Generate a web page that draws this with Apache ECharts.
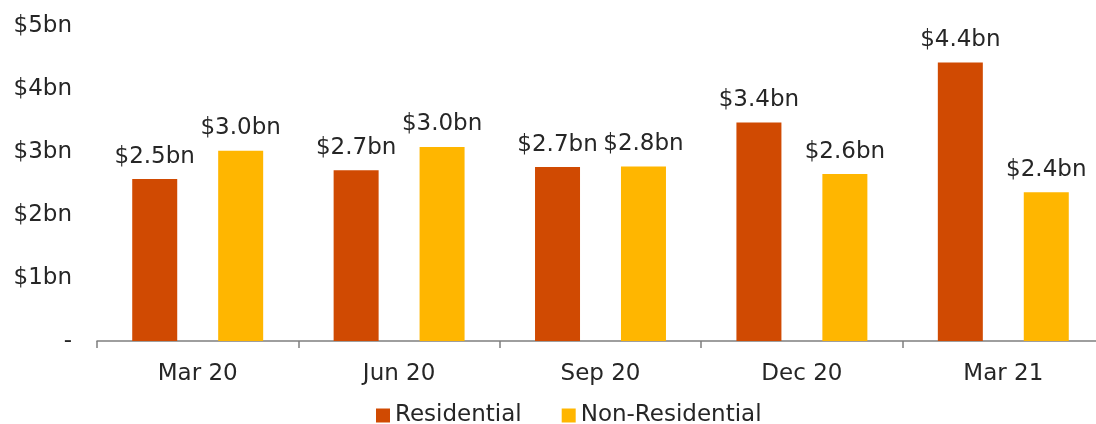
<!DOCTYPE html>
<html><head><meta charset="utf-8">
<script src="https://cdn.jsdelivr.net/npm/echarts@6/dist/echarts.min.js"></script>
<style>html,body{margin:0;padding:0;background:#fff;overflow:hidden}#c{width:1112px;height:424px}</style>
</head><body><div id="c"></div>
<script>
const categories = ["Mar 20", "Jun 20", "Sep 20", "Dec 20", "Mar 21"];
const residential = [2.57, 2.71, 2.76, 3.47, 4.42];
const nonResidential = [3.02, 3.08, 2.77, 2.65, 2.36];
const residentialLabels = ["$2.5bn", "$2.7bn", "$2.7bn", "$3.4bn", "$4.4bn"];
const nonResidentialLabels = ["$3.0bn", "$3.0bn", "$2.8bn", "$2.6bn", "$2.4bn"];
const yTickLabels = ["-", "$1bn", "$2bn", "$3bn", "$4bn", "$5bn"];

const FONT = "DejaVu Sans";
const TXT = "#262626";
const chart = echarts.init(document.getElementById('c'), null, {renderer: 'canvas'});
chart.setOption({
  animation: false,
  textStyle: {fontFamily: FONT},
  grid: {left: 97, width: 1007, top: 26, height: 315},
  legend: {
    left: 371, top: 399,
    itemWidth: 14, itemHeight: 14, itemGap: 40,
    icon: 'rect',
    textStyle: {fontFamily: FONT, fontSize: 23, color: TXT},
    data: ['Residential', 'Non-Residential']
  },
  xAxis: {
    type: 'category', data: categories,
    axisLine: {lineStyle: {color: '#7f7f7f', width: 1.5}},
    axisTick: {show: true, length: 7, lineStyle: {color: '#7f7f7f', width: 1.5}},
    axisLabel: {fontFamily: FONT, fontSize: 23, color: TXT, margin: 22}
  },
  yAxis: {
    type: 'value', min: 0, max: 5, interval: 1,
    axisLine: {show: false}, axisTick: {show: false}, splitLine: {show: false},
    axisLabel: {fontFamily: FONT, fontSize: 23, color: TXT, margin: 25,
      formatter: v => yTickLabels[Math.round(v)]}
  },
  series: [
    {name: 'Residential', type: 'bar', data: residential, barWidth: 45, barGap: '91%',
     itemStyle: {color: '#D04A02'},
     label: {show: true, position: 'top', distance: 11, fontFamily: FONT, fontSize: 23, color: TXT,
       formatter: p => residentialLabels[p.dataIndex]}},
    {name: 'Non-Residential', type: 'bar', data: nonResidential, barWidth: 45, barGap: '91%',
     itemStyle: {color: '#FFB600'},
     label: {show: true, position: 'top', distance: 11, fontFamily: FONT, fontSize: 23, color: TXT,
       formatter: p => nonResidentialLabels[p.dataIndex]}}
  ]
});
</script></body></html>
